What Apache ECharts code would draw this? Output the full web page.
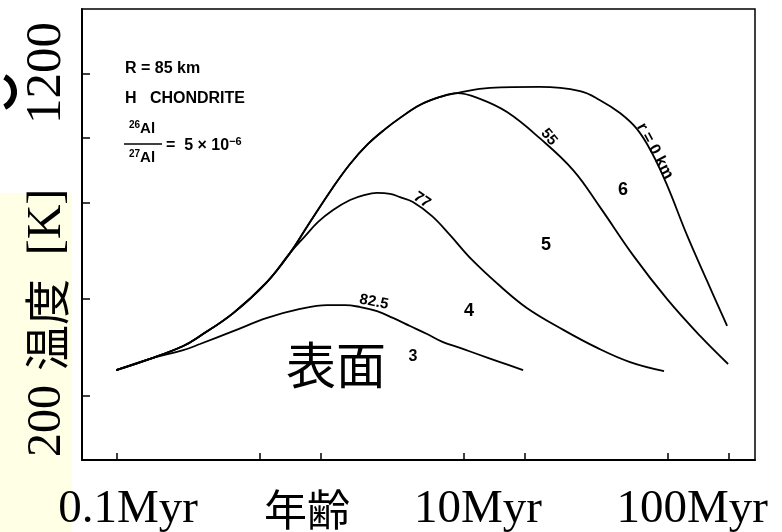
<!DOCTYPE html>
<html><head><meta charset="utf-8">
<script src="https://cdn.jsdelivr.net/npm/echarts@6/dist/echarts.min.js"></script>
<style>html,body{margin:0;padding:0;background:#fff}#c{width:782px;height:532px}</style>
</head><body><div id="c"></div>
<script>
// Tick positions
const xTicksMyr = [0.1, 0.5, 1, 5, 10, 50, 100];
const yTicksK = [200, 500, 800, 1000, 1200];
const xLabels = ['0.1Myr', '10Myr', '100Myr'];
const yLabels = ['200', '1200'];

// r = 82.5 km
const r825Myr = [0.099, 0.145, 0.211, 0.255, 0.371, 0.544, 0.789, 1.07, 1.31, 1.55, 1.88, 2.25, 2.73, 3.31, 3.96, 4.80, 5.82, 7.54, 9.78];
const r825K   = [279, 314, 341, 360, 400, 441, 469, 481, 481, 475, 462, 441, 416, 391, 366, 348, 329, 304, 279];
// r = 77 km
const r77Myr = [0.099, 0.145, 0.211, 0.255, 0.371, 0.544, 0.705, 0.835, 0.967, 1.145, 1.387, 1.64, 1.88, 2.18, 2.44, 2.82, 3.50, 4.29, 5.50, 7.54, 10.2, 15.4, 22.6, 32.7, 48.0];
const r77K   = [279, 314, 354, 385, 456, 553, 643, 695, 739, 776, 807, 823, 829, 826, 816, 801, 757, 698, 621, 540, 472, 404, 348, 304, 276];
// r = 55 km
const r55Myr = [0.099, 0.145, 0.211, 0.255, 0.371, 0.544, 0.705, 0.883, 1.145, 1.387, 1.68, 2.06, 2.44, 3.05, 3.83, 4.64, 6.01, 8.16, 11.8, 17.2, 23.3, 33.8, 49.6, 72.1, 98.9];
const r55K   = [279, 314, 354, 385, 456, 553, 643, 739, 847, 919, 978, 1027, 1062, 1102, 1127, 1139, 1121, 1080, 999, 900, 785, 636, 500, 385, 298];
// r = 0 km (centre)
const r0Myr = [0.099, 0.145, 0.211, 0.255, 0.371, 0.544, 0.705, 0.883, 1.145, 1.387, 1.68, 2.06, 2.44, 3.05, 3.83, 4.64, 6.73, 11.8, 18.6, 23.3, 29.2, 35.4, 41.9, 49.6, 62.2, 78.0, 97.8];
const r0K   = [279, 314, 354, 385, 456, 553, 643, 739, 847, 919, 978, 1027, 1062, 1102, 1127, 1139, 1155, 1158, 1145, 1117, 1077, 1027, 953, 854, 698, 556, 416];

const toPts = (t, k) => t.map((v, i) => [Math.log10(v), k[i]]);
const lg = v => Math.log10(v);

const chart = echarts.init(document.getElementById('c'), null, {renderer: 'canvas'});
const serif = '"Liberation Serif", "Times New Roman", serif';
const sans = '"Liberation Sans", Arial, sans-serif';
const cjk = '"Noto Sans CJK JP", "Noto Sans CJK SC", sans-serif';

function lineSeries(name, t, k) {
  return {
    name, type: 'line', data: toPts(t, k), showSymbol: false, symbol: 'none',
    smooth: 0.4, lineStyle: {color: '#000', width: 1.8}, z: 3, silent: true, animation: false
  };
}

function txt(text, x, y, opt) {
  opt = opt || {};
  return {
    type: 'text', x, y, rotation: opt.rot || 0, z: 10, silent: true,
    style: {
      text, fill: '#000',
      font: opt.font,
      align: opt.align || 'center', verticalAlign: opt.va || 'middle',
      textAlign: opt.align || 'center', textVerticalAlign: opt.va || 'middle',
      rich: opt.rich
    }
  };
}

const option = {
  animation: false,
  backgroundColor: '#fff',
  grid: {left: 82, right: 27, top: 9, bottom: 72, show: true, borderColor: '#000', borderWidth: 1.5, backgroundColor: 'transparent'},
  xAxis: {
    type: 'value', min: lg(0.0673), max: lg(134),
    axisLine: {show: true, onZero: false, lineStyle: {color: '#000', width: 2}},
    axisTick: {show: true, inside: true, length: 7, customValues: xTicksMyr.map(lg), lineStyle: {color: '#000', width: 1.5}},
    axisLabel: {show: false}, splitLine: {show: false}
  },
  yAxis: {
    type: 'value', min: 0, max: 1400,
    axisLine: {show: true, onZero: false, lineStyle: {color: '#000', width: 2}},
    axisTick: {show: true, inside: true, length: 8, customValues: yTicksK, lineStyle: {color: '#000', width: 1.5}},
    axisLabel: {show: false}, splitLine: {show: false}
  },
  series: [
    lineSeries('82.5', r825Myr, r825K),
    lineSeries('77', r77Myr, r77K),
    lineSeries('55', r55Myr, r55K),
    lineSeries('0', r0Myr, r0K)
  ]
};
chart.setOption(option);

const bold = s => 'bold ' + s + 'px ' + sans;
const supRich = {
  s: {fontSize: 10, fontWeight: 'bold', fontFamily: sans, verticalAlign: 'top', padding: [0, 0, 8, 0]},
  a: {fontSize: 15, fontWeight: 'bold', fontFamily: sans}
};
const eqRich = {
  s: {fontSize: 11, fontWeight: 'bold', fontFamily: sans, verticalAlign: 'top', padding: [0, 0, 9, 0]},
  a: {fontSize: 16, fontWeight: 'bold', fontFamily: sans}
};

const g = [
  {type: 'rect', shape: {x: 0, y: 193, width: 72, height: 339}, style: {fill: '#FFFFE6'}, z: 0, silent: true},
  {type: 'arc', shape: {cx: -3, cy: 92, r: 17, startAngle: -1.1, endAngle: 1.1}, style: {stroke: '#000', lineWidth: 6, fill: null}, z: 10, silent: true},
  // in-plot annotations
  txt('R = 85 km', 125, 69, {font: bold(16), align: 'left'}),
  txt('H   CHONDRITE', 125, 99, {font: bold(16), align: 'left'}),
  txt('{s|26}{a|Al}', 142, 129, {rich: supRich}),
  {type: 'line', shape: {x1: 124, y1: 144, x2: 162, y2: 144}, style: {stroke: '#000', lineWidth: 1.3}, z: 10, silent: true},
  txt('{s|27}{a|Al}', 142, 158, {rich: supRich}),
  txt('{a|=  5 × 10}{s|−6}', 166, 146, {align: 'left', rich: eqRich}),
  txt('82.5', 374, 302, {font: bold(15), rot: -0.2}),
  txt('77', 422, 200, {font: bold(15), rot: -0.6}),
  txt('55', 549, 137, {font: bold(15), rot: -0.87}),
  txt('r = 0 km', 655, 151, {font: bold(16), rot: -1.08}),
  txt('6', 623, 190, {font: bold(18)}),
  txt('5', 546, 245, {font: bold(18)}),
  txt('4', 469, 311, {font: bold(18)}),
  txt('3', 413, 357, {font: bold(16)}),
  txt('表面', 336, 365, {font: '50px ' + cjk}),
  // axis texts
  txt(xLabels[0], 128, 510, {font: '47px ' + serif}),
  txt('年齢', 307, 510, {font: '43px ' + cjk}),
  txt(xLabels[1], 478, 510, {font: '47px ' + serif}),
  txt(xLabels[2], 768, 510, {font: '47px ' + serif, align: 'right'}),
  txt(yLabels[1], 47, 73, {font: '51px ' + serif, rot: Math.PI / 2}),
  txt('[K]', 47, 222, {font: '48px ' + serif, rot: Math.PI / 2}),
  txt('温度', 47, 325, {font: '46px ' + cjk, rot: Math.PI / 2}),
  txt(yLabels[0], 47, 421, {font: '48px ' + serif, rot: Math.PI / 2})
];
chart.setOption({graphic: {elements: g}});
</script>
</body></html>
